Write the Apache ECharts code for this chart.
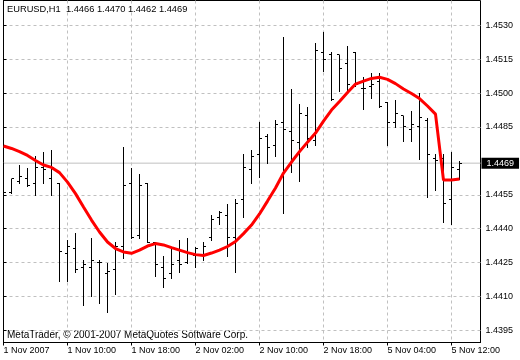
<!DOCTYPE html>
<html><head><meta charset="utf-8">
<script src="https://cdn.jsdelivr.net/npm/echarts@6/dist/echarts.min.js"></script>
<style>html,body{margin:0;padding:0;background:#fff}#c{width:520px;height:360px}</style>
</head><body><div id="c"></div>
<script>
const symbolName = 'EURUSD,H1';
const copyrightText = 'MetaTrader, \u00A9 2001-2007 MetaQuotes Software Corp.';
const timeLabels = ['1 Nov 2007','1 Nov 10:00','1 Nov 18:00','2 Nov 02:00','2 Nov 10:00','2 Nov 18:00','5 Nov 04:00','5 Nov 12:00'];
const timeLabelBars = [0, 8, 16, 24, 32, 40, 48, 56];
const priceTicks = [1.4395, 1.4410, 1.4425, 1.4440, 1.4455, 1.4485, 1.4500, 1.4515, 1.4530];
const priceMin = 1.43896;
const priceMax = 1.45410;
const barSlots = 59.625;

const opens = [1.4463,1.4456,1.4461,1.4462,1.4460,1.4467,1.4462,1.4460,1.4429,1.4431,
  1.4423,1.4423,1.4425,1.4420,1.4422,1.4432,1.4460,1.4437,1.4460,1.4434,
  1.4423,1.4420,1.4426,1.4425,1.4428,1.4428,1.4436,1.4445,1.4446,1.4436,
  1.4453,1.4466,1.4473,1.4481,1.4477,1.4487,1.4483,1.4478,1.4490,1.4479,
  1.4518,1.4517,1.4517,1.4513,1.4518,1.4502,1.4503,1.4505,1.4496,1.4487,
  1.4490,1.4484,1.4485,1.4488,1.4471,1.4471,1.4453,1.4466];
const highs = [1.4469,1.4462,1.4468,1.4467,1.4472,1.4474,1.4475,1.4460,1.4435,1.4438,
  1.4426,1.4436,1.4426,1.4425,1.4434,1.4476,1.4467,1.4464,1.4460,1.4434,
  1.4428,1.4431,1.4435,1.4436,1.4432,1.4434,1.4446,1.4448,1.4451,1.4453,
  1.4473,1.4475,1.4487,1.4482,1.4488,1.4525,1.4502,1.4495,1.4494,1.4522,
  1.4527,1.4518,1.4517,1.4521,1.4518,1.4507,1.4509,1.4509,1.4496,1.4497,
  1.4490,1.4492,1.4500,1.4489,1.4473,1.4473,1.4474,1.4470];
const lows = [1.4455,1.4456,1.4460,1.4459,1.4455,1.4460,1.4455,1.4417,1.4417,1.4421,
  1.4406,1.4410,1.4407,1.4403,1.4411,1.4427,1.4436,1.4436,1.4434,1.4419,
  1.4414,1.4418,1.4421,1.4425,1.4423,1.4426,1.4435,1.4442,1.4428,1.4421,
  1.4445,1.4460,1.4463,1.4469,1.4472,1.4447,1.4465,1.4461,1.4476,1.4477,
  1.4510,1.4497,1.4501,1.4501,1.4503,1.4493,1.4498,1.4494,1.4477,1.4485,
  1.4479,1.4479,1.4471,1.4454,1.4457,1.4443,1.4442,1.4462];
const closes = [1.4456,1.4462,1.4463,1.4459,1.4467,1.4466,1.4467,1.4430,1.4432,1.4422,
  1.4424,1.4426,1.4425,1.4421,1.4432,1.4459,1.4436,1.4459,1.4434,1.4424,
  1.4418,1.4424,1.4424,1.4429,1.4431,1.4432,1.4444,1.4447,1.4436,1.4451,
  1.4467,1.4472,1.4480,1.4476,1.4486,1.4484,1.4479,1.4491,1.4480,1.4519,
  1.4515,1.4497,1.4511,1.4504,1.4504,1.4502,1.4504,1.4494,1.4487,1.4491,
  1.4485,1.4486,1.4489,1.4473,1.4470,1.4451,1.4467,1.4469];
const maValues = [1.44766,1.44755,1.44741,1.44724,1.44702,1.44682,1.44671,1.44648,1.44606,1.44555,
  1.44496,1.44438,1.44385,1.44341,1.44312,1.44297,1.44291,1.44305,1.44323,1.44334,
  1.44328,1.44316,1.44305,1.44294,1.44285,1.44281,1.44292,1.44305,1.44321,1.44343,
  1.44378,1.44416,1.44465,1.44522,1.44580,1.44646,1.44695,1.44741,1.44783,1.44823,
  1.44876,1.44925,1.44963,1.45003,1.45040,1.45053,1.45065,1.45070,1.45061,1.45042,
  1.45018,1.44998,1.44976,1.44943,1.44907,1.44615,1.44615,1.44620];

const last = opens.length - 1;
const lastClose = closes[last];
const headerText = symbolName + '  ' + [opens[last], highs[last], lows[last], closes[last]].map(v => v.toFixed(4)).join(' ');
const ohlcData = opens.map((o, i) => [i, o, highs[i], lows[i], closes[i]]);
const maData = maValues.map((v, i) => [i, v]);
const bidLineData = [[0, lastClose], [barSlots, lastClose]];

const FONT = 'Liberation Sans';
const chart = echarts.init(document.getElementById('c'), null, {renderer: 'canvas'});

function px(v) { return Math.round(v - 0.5) + 0.5; }
function renderBar(params, api) {
  const i = api.value(0);
  const pH = api.coord([i, api.value(2)]);
  const pL = api.coord([i, api.value(3)]);
  const pO = api.coord([i, api.value(1)]);
  const pC = api.coord([i, api.value(4)]);
  const cx = px(pH[0]);
  const yH = Math.round(pH[1]);
  const yL = Math.round(pL[1]) + 1;
  const yO = px(pO[1]);
  const yC = px(pC[1]);
  const st = {stroke: '#000', lineWidth: 1};
  return {
    type: 'group',
    children: [
      {type: 'line', shape: {x1: cx, y1: yH, x2: cx, y2: yL}, style: st},
      {type: 'line', shape: {x1: cx - 2.5, y1: yO, x2: cx, y2: yO}, style: st},
      {type: 'line', shape: {x1: cx, y1: yC, x2: cx + 2.5, y2: yC}, style: st}
    ]
  };
}

chart.setOption({
  animation: false,
  backgroundColor: '#fff',
  grid: {left: 3.5, right: 39.5, top: 0.5, bottom: 17.5, show: true, borderColor: '#000', borderWidth: 1, backgroundColor: 'transparent', containLabel: false, outerBoundsMode: 'none'},
  xAxis: {
    type: 'value', min: 0, max: barSlots,
    axisLine: {show: true, lineStyle: {color: '#000', width: 1}},
    axisTick: {show: true, length: 3, inside: false, customValues: timeLabelBars, lineStyle: {color: '#000'}},
    axisLabel: {customValues: timeLabelBars, formatter: v => timeLabels[timeLabelBars.indexOf(Math.round(v))] || '',
      align: 'left', margin: 4, color: '#000', fontFamily: FONT, fontSize: 9, hideOverlap: false},
    splitLine: {show: true, lineStyle: {color: '#c0c0c0', type: [3, 3], width: 1}}
  },
  yAxis: {
    type: 'value', position: 'right', min: priceMin, max: priceMax,
    axisLine: {show: true, lineStyle: {color: '#000', width: 1}},
    axisTick: {show: true, length: 3, inside: false, customValues: priceTicks, lineStyle: {color: '#000'}},
    axisLabel: {customValues: priceTicks, formatter: v => v.toFixed(4), align: 'left', margin: 5,
      color: '#000', fontFamily: FONT, fontSize: 9, hideOverlap: false},
    splitLine: {show: true, lineStyle: {color: '#c0c0c0', type: [3, 3], width: 1}}
  },
  graphic: [
    {type: 'text', left: 7, top: 4.5, style: {text: headerText, fill: '#000', font: '9.3px "' + FONT + '"'}},
    {type: 'text', left: 7, top: 330.5, style: {text: copyrightText, fill: '#000', font: '10px "' + FONT + '"'}}
  ],
  series: [
    {
      type: 'line', data: bidLineData, z: 1, silent: true, showSymbol: false, symbol: 'none', clip: false,
      lineStyle: {color: '#c0c0c0', width: 1},
      endLabel: {show: true, distance: 1, formatter: () => lastClose.toFixed(4),
        color: '#fff', backgroundColor: '#000', padding: [1, 5, 1, 5], fontFamily: FONT, fontSize: 9}
    },
    {type: 'custom', data: ohlcData, renderItem: renderBar, clip: true, z: 3, silent: true,
      encode: {x: 0, y: [1, 2, 3, 4]}},
    {type: 'line', data: maData, showSymbol: false, symbol: 'none', clip: true, z: 5, silent: true,
      lineStyle: {color: '#ff0000', width: 3}}
  ]
});
</script>
</body></html>
